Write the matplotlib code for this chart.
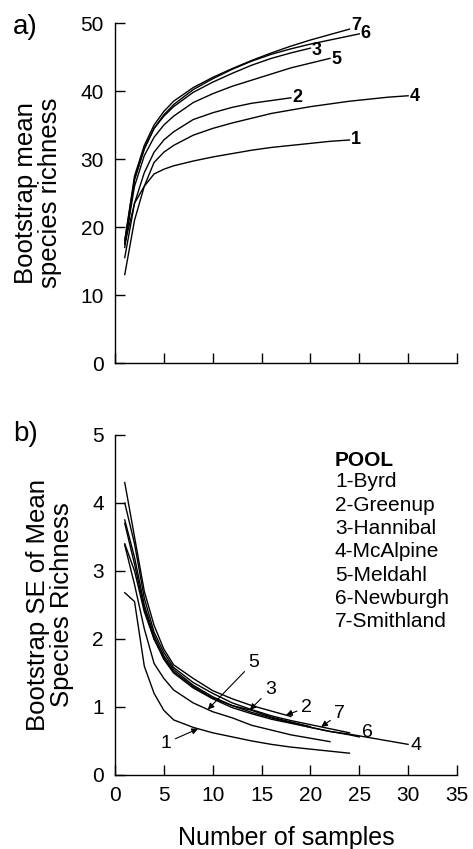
import numpy as np
import matplotlib
matplotlib.use("Agg")
import matplotlib.pyplot as plt

plt.rcParams['font.family'] = ['Liberation Sans', 'DejaVu Sans']

# samples (x) per pool
x_1 = [1, 2, 3, 4, 5, 6, 8, 10, 12, 14, 16, 18, 20, 22, 24]
x_2 = [1, 2, 3, 4, 5, 6, 8, 10, 12, 14, 16, 18]
x_3 = [1, 2, 3, 4, 5, 6, 8, 10, 12, 14, 16, 18, 20]
x_4 = [1, 2, 3, 4, 5, 6, 8, 10, 12, 14, 16, 18, 20, 22, 24, 26, 28, 30]
x_5 = [1, 2, 3, 4, 5, 6, 8, 10, 12, 14, 16, 18, 20, 22]
x_6 = [1, 2, 3, 4, 5, 6, 8, 10, 12, 14, 16, 18, 20, 22, 24, 25]
x_7 = [1, 2, 3, 4, 5, 6, 8, 10, 12, 14, 16, 18, 20, 22, 24]

# a) bootstrap mean species richness
mean_1 = [17.5, 23.5, 26.0, 27.8, 28.5, 29.0, 29.7, 30.3, 30.8, 31.3, 31.7, 32.0, 32.3, 32.6, 32.8]
mean_2 = [15.5, 23.5, 28.0, 31.0, 32.8, 34.0, 35.8, 36.8, 37.6, 38.2, 38.6, 39.0]
mean_3 = [18.0, 27.0, 31.5, 34.5, 36.3, 37.7, 39.8, 41.3, 42.6, 43.8, 44.8, 45.6, 46.3]
mean_4 = [13.0, 21.0, 26.0, 29.5, 31.0, 32.0, 33.5, 34.5, 35.3, 36.0, 36.7, 37.2, 37.7, 38.1, 38.5, 38.8, 39.1, 39.3]
mean_5 = [17.5, 26.0, 30.5, 33.2, 35.0, 36.3, 38.3, 39.6, 40.7, 41.6, 42.5, 43.4, 44.1, 44.8]
mean_6 = [17.0, 27.0, 31.5, 34.5, 36.5, 38.0, 40.2, 41.8, 43.2, 44.4, 45.4, 46.2, 46.9, 47.5, 48.1, 48.4]
mean_7 = [18.0, 27.5, 32.0, 35.0, 37.0, 38.5, 40.5, 42.0, 43.3, 44.5, 45.6, 46.6, 47.5, 48.3, 49.1]

# b) bootstrap SE of mean species richness
se_1 = [2.68, 2.55, 1.60, 1.20, 0.95, 0.81, 0.70, 0.62, 0.56, 0.50, 0.45, 0.41, 0.38, 0.35, 0.32]
se_2 = [4.30, 3.50, 2.70, 2.20, 1.85, 1.62, 1.42, 1.24, 1.12, 1.02, 0.94, 0.86]
se_3 = [3.40, 3.00, 2.40, 2.00, 1.72, 1.52, 1.30, 1.13, 1.02, 0.95, 0.85, 0.78, 0.71]
se_4 = [3.70, 3.10, 2.45, 2.00, 1.70, 1.50, 1.28, 1.12, 0.99, 0.90, 0.82, 0.76, 0.70, 0.64, 0.60, 0.55, 0.50, 0.45]
se_5 = [3.38, 2.80, 2.15, 1.64, 1.42, 1.25, 1.06, 0.93, 0.84, 0.73, 0.66, 0.59, 0.54, 0.49]
se_6 = [3.75, 3.20, 2.50, 2.05, 1.75, 1.55, 1.32, 1.15, 1.02, 0.92, 0.84, 0.77, 0.70, 0.64, 0.59, 0.56]
se_7 = [4.00, 3.40, 2.60, 2.10, 1.80, 1.58, 1.36, 1.20, 1.06, 0.96, 0.87, 0.80, 0.74, 0.68, 0.62]

pool_names = ['1-Byrd', '2-Greenup', '3-Hannibal', '4-McAlpine',
              '5-Meldahl', '6-Newburgh', '7-Smithland']

xs = [x_1, x_2, x_3, x_4, x_5, x_6, x_7]
means = [mean_1, mean_2, mean_3, mean_4, mean_5, mean_6, mean_7]
ses = [se_1, se_2, se_3, se_4, se_5, se_6, se_7]

fig = plt.figure(figsize=(4.73, 8.49), dpi=100)
ax1 = fig.add_axes([0.2431, 0.5724, 0.723, 0.4005])
ax2 = fig.add_axes([0.2431, 0.0872, 0.723, 0.4005])

for ax in (ax1, ax2):
    ax.spines['top'].set_visible(False)
    ax.spines['right'].set_visible(False)
    for s in ('left', 'bottom'):
        ax.spines[s].set_linewidth(1.0)
    ax.set_xlim(0, 35)
    ax.set_xticks(np.arange(0, 36, 5))
    ax.tick_params(direction='in', length=7, width=1.0, labelsize=15, pad=8)

# a)
for i in range(7):
    ax1.plot(xs[i], means[i], color='k', lw=1.0)
# curve end labels
lab_dy = [0.1, 0.1, -0.3, -0.1, -0.1, 0.0, 0.6]
for i in range(7):
    ax1.text(xs[i][-1] + 0.15, means[i][-1] + lab_dy[i], str(i + 1),
             fontsize=13, fontweight='bold', ha='left', va='center')
ax1.set_ylim(0, 50)
ax1.set_yticks(np.arange(0, 51, 10))
ax1.tick_params(axis='x', labelbottom=False)
ax1.set_ylabel('Bootstrap mean\nspecies richness', fontsize=18.5, labelpad=13, linespacing=1.0)

# b)
for i in range(7):
    ax2.plot(xs[i], ses[i], color='k', lw=1.0)
ax2.set_ylim(0, 5)
ax2.set_yticks(np.arange(0, 6, 1))
ax2.set_ylabel('Bootstrap SE of Mean\nSpecies Richness', fontsize=18.5, labelpad=13, linespacing=1.0)
ax2.set_xlabel('Number of samples', fontsize=18, labelpad=15)

arrow = dict(arrowstyle='-|>', color='k', lw=0.8, mutation_scale=9, shrinkA=1, shrinkB=0)
# (pool, arrow target x, text x, text y)
notes = [(1, 8.5, 5.2, 0.47), (5, 9.5, 14.2, 1.66), (3, 13.8, 15.9, 1.26),
         (2, 17.5, 19.6, 0.99), (7, 21.1, 23.0, 0.90)]
for p, tx, lx, ly in notes:
    ty = np.interp(tx, xs[p - 1], ses[p - 1])
    ax2.annotate(str(p), xy=(tx, ty), xytext=(lx, ly), fontsize=14,
                 ha='center', va='center', arrowprops=arrow)
ax2.text(x_6[-1] + 0.3, se_6[-1] + 0.06, '6', fontsize=14, ha='left', va='center')
ax2.text(x_4[-1] + 0.2, se_4[-1] - 0.02, '4', fontsize=14, ha='left', va='center')

# legend block
ax2.text(0.643, 0.926, 'POOL', transform=ax2.transAxes, fontsize=15,
         fontweight='bold', ha='left', va='center')
for i, name in enumerate(pool_names):
    ax2.text(0.643, 0.862 - i * 0.0685, name, transform=ax2.transAxes,
             fontsize=15, ha='left', va='center')

fig.text(0.027, 1 - 14 / 849, 'a)', fontsize=20, ha='left', va='top')
fig.text(0.027, 1 - 421 / 849, 'b)', fontsize=20, ha='left', va='top')

fig.savefig('out.png', dpi=100)
